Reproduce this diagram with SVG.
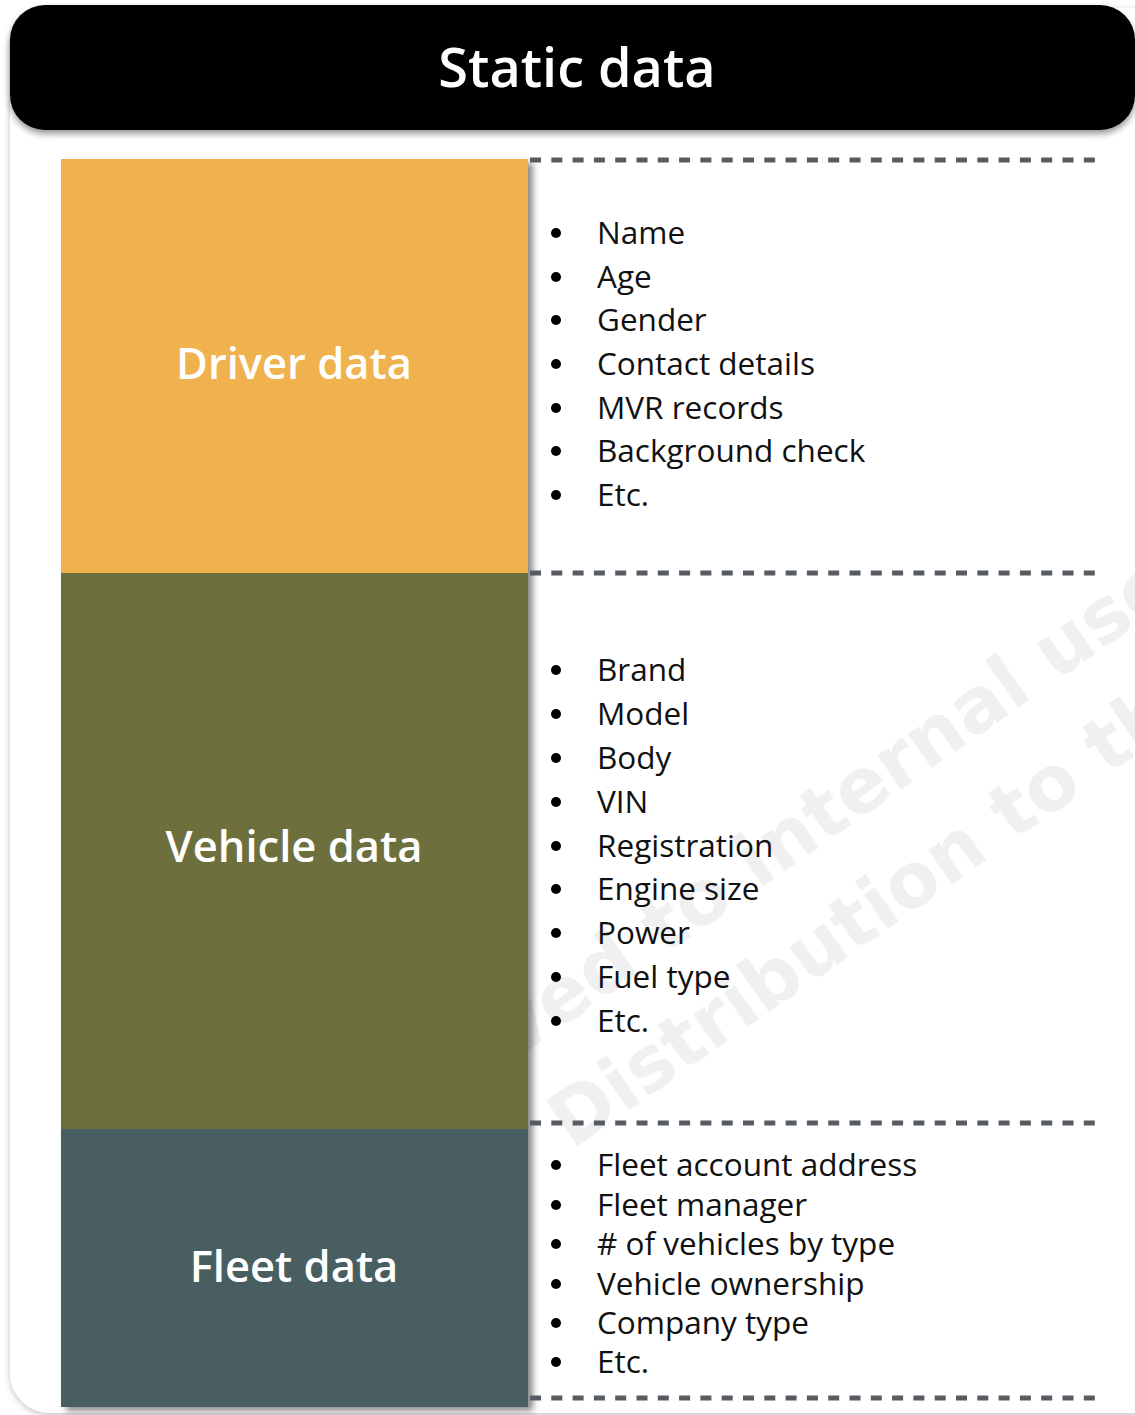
<svg xmlns="http://www.w3.org/2000/svg" width="1135" height="1415" viewBox="0 0 1135 1415">
<defs>
<filter id="cardShadow" x="-5%" y="-5%" width="110%" height="110%">
<feDropShadow dx="0" dy="2" stdDeviation="3" flood-color="#000" flood-opacity="0.25"/>
</filter>
<filter id="hdrShadow" x="-5%" y="-20%" width="110%" height="150%">
<feDropShadow dx="0" dy="4" stdDeviation="3" flood-color="#000" flood-opacity="0.4"/>
</filter>
<filter id="colShadow" x="-10%" y="-5%" width="120%" height="110%">
<feDropShadow dx="5" dy="4" stdDeviation="3" flood-color="#000" flood-opacity="0.45"/>
</filter>
<style>
.item{font-family:"Open Sans","Liberation Sans",sans-serif;font-size:31.5px;fill:#111;}
.lbl{font-family:"Open Sans","Liberation Sans",sans-serif;font-size:43.5px;font-weight:600;fill:#fff;text-anchor:middle;}
.title{font-family:"Open Sans","Liberation Sans",sans-serif;font-size:54px;font-weight:600;fill:#fff;text-anchor:middle;}
.wm{font-family:"DejaVu Sans",sans-serif;font-size:76px;font-weight:bold;fill:#f0f0f0;}
.dash{stroke:#575c62;stroke-width:5;stroke-dasharray:11 10.3;fill:none;}
.dot{fill:#000;}
</style>
</defs>
<rect x="10" y="8" width="1200" height="1405" rx="40" ry="40" fill="#fff" filter="url(#cardShadow)"/>
<g id="watermark">
<text class="wm" transform="translate(515,1060) rotate(-35)">ved to internal use</text>
<text class="wm" transform="translate(572,1150) rotate(-35)">Distribution to th</text>
</g>
<g id="header">
<rect x="10" y="5" width="1125" height="125" rx="35" ry="35" fill="#000" filter="url(#hdrShadow)"/>
<text class="title" x="577" y="87">Static data</text>
</g>
<g filter="url(#colShadow)">
<rect x="61" y="159" width="467" height="1248" fill="#485E60"/>
</g>
<g id="driver">
<rect x="61" y="159" width="467" height="415" fill="#F0B24E"/>
<text class="lbl" x="294" y="379">Driver data</text>
</g>
<g id="vehicle">
<rect x="61" y="573" width="467" height="556" fill="#6D703C"/>
<text class="lbl" x="294" y="862">Vehicle data</text>
</g>
<g id="fleet">
<rect x="61" y="1129" width="467" height="278" fill="#485E60"/>
<text class="lbl" x="294" y="1282">Fleet data</text>
</g>
<g id="connectors">
<line class="dash" x1="530" y1="160" x2="1097" y2="160"/>
<line class="dash" x1="530" y1="573" x2="1097" y2="573"/>
<line class="dash" x1="530" y1="1123" x2="1097" y2="1123"/>
<line class="dash" x1="530" y1="1398" x2="1097" y2="1398"/>
</g>
<g id="driver-list">
<circle class="dot" cx="556" cy="233" r="5"/><text class="item" x="597" y="244">Name</text>
<circle class="dot" cx="556" cy="277" r="5"/><text class="item" x="597" y="288">Age</text>
<circle class="dot" cx="556" cy="320" r="5"/><text class="item" x="597" y="331">Gender</text>
<circle class="dot" cx="556" cy="364" r="5"/><text class="item" x="597" y="375">Contact details</text>
<circle class="dot" cx="556" cy="408" r="5"/><text class="item" x="597" y="419">MVR records</text>
<circle class="dot" cx="556" cy="451" r="5"/><text class="item" x="597" y="462">Background check</text>
<circle class="dot" cx="556" cy="495" r="5"/><text class="item" x="597" y="506">Etc.</text>
</g>
<g id="vehicle-list">
<circle class="dot" cx="556" cy="670" r="5"/><text class="item" x="597" y="681">Brand</text>
<circle class="dot" cx="556" cy="714" r="5"/><text class="item" x="597" y="725">Model</text>
<circle class="dot" cx="556" cy="758" r="5"/><text class="item" x="597" y="769">Body</text>
<circle class="dot" cx="556" cy="802" r="5"/><text class="item" x="597" y="813">VIN</text>
<circle class="dot" cx="556" cy="846" r="5"/><text class="item" x="597" y="857">Registration</text>
<circle class="dot" cx="556" cy="889" r="5"/><text class="item" x="597" y="900">Engine size</text>
<circle class="dot" cx="556" cy="933" r="5"/><text class="item" x="597" y="944">Power</text>
<circle class="dot" cx="556" cy="977" r="5"/><text class="item" x="597" y="988">Fuel type</text>
<circle class="dot" cx="556" cy="1021" r="5"/><text class="item" x="597" y="1032">Etc.</text>
</g>
<g id="fleet-list">
<circle class="dot" cx="556" cy="1165" r="5"/><text class="item" x="597" y="1176">Fleet account address</text>
<circle class="dot" cx="556" cy="1205" r="5"/><text class="item" x="597" y="1216">Fleet manager</text>
<circle class="dot" cx="556" cy="1244" r="5"/><text class="item" x="597" y="1255"># of vehicles by type</text>
<circle class="dot" cx="556" cy="1284" r="5"/><text class="item" x="597" y="1295">Vehicle ownership</text>
<circle class="dot" cx="556" cy="1323" r="5"/><text class="item" x="597" y="1334">Company type</text>
<circle class="dot" cx="556" cy="1362" r="5"/><text class="item" x="597" y="1373">Etc.</text>
</g>
</svg>
